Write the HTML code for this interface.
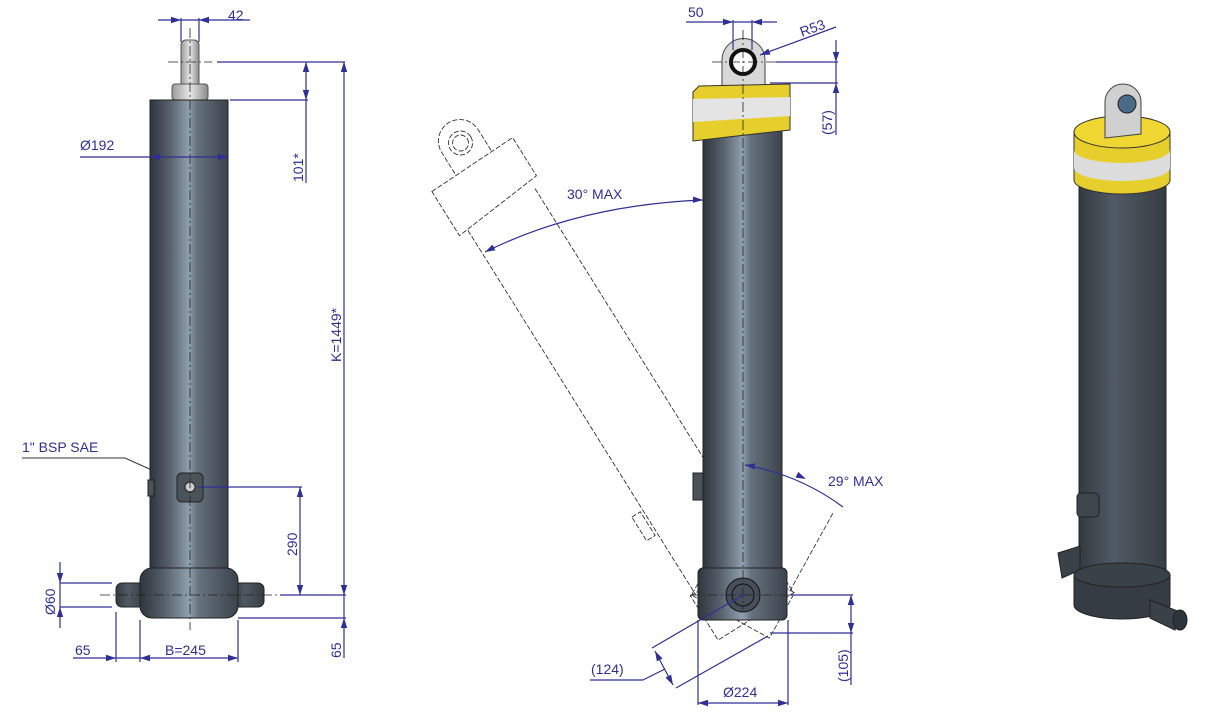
<!DOCTYPE html>
<html><head><meta charset="utf-8"><style>
html,body{margin:0;padding:0;background:#fff;}
svg{display:block;}
text{font-family:"Liberation Sans",sans-serif;fill:#2f2f96;font-size:14px;}
</style></head><body>
<svg width="1215" height="715" viewBox="0 0 1215 715" xmlns="http://www.w3.org/2000/svg" xmlns:xlink="http://www.w3.org/1999/xlink">
<defs>
<linearGradient id="body" x1="0" x2="1" y1="0" y2="0">
<stop offset="0" stop-color="#2e353d"/><stop offset="0.25" stop-color="#56606b"/><stop offset="0.5" stop-color="#8fa0ae"/><stop offset="0.6" stop-color="#66727e"/><stop offset="1" stop-color="#3b434c"/>
</linearGradient>
<linearGradient id="b3" x1="0" x2="1" y1="0" y2="0">
<stop offset="0" stop-color="#333a41"/><stop offset="0.4" stop-color="#505a64"/><stop offset="1" stop-color="#353c43"/>
</linearGradient>
<linearGradient id="rod" x1="0" x2="1"><stop offset="0" stop-color="#9a9a9a"/><stop offset="0.5" stop-color="#e8e8e8"/><stop offset="1" stop-color="#8a8a8a"/></linearGradient>
<path id="ar" d="M0,0 L-10,-3.2 L-10,3.2z" fill="#2f2f96"/>
</defs>
<!-- LEFT cylinder -->
<line x1="22" y1="458" x2="125" y2="458" stroke="#333" stroke-width="1"/>
<line x1="125" y1="458" x2="183" y2="484" stroke="#333" stroke-width="1"/>
<rect x="181" y="40" width="18" height="48" rx="5" fill="url(#rod)" stroke="#555"/>
<rect x="172" y="84" width="36" height="16" rx="3" fill="url(#rod)" stroke="#555"/>
<rect x="150" y="100" width="78" height="475" fill="url(#body)" stroke="#222"/>
<rect x="148" y="480" width="6" height="16" fill="#4a525a" stroke="#222"/>
<rect x="116" y="583" width="30" height="24" rx="6" fill="url(#b3)" stroke="#222"/>
<rect x="232" y="583" width="32" height="24" rx="6" fill="url(#b3)" stroke="#222"/>
<rect x="140" y="568" width="98" height="50" rx="12" fill="url(#body)" stroke="#222"/>
<rect x="177" y="473" width="26" height="29" rx="5" fill="#4a525a" stroke="#222"/>
<circle cx="190" cy="487" r="5" fill="#ccc" stroke="#222"/>
<g stroke="#222" stroke-width="0.8" stroke-dasharray="10,3,2,3" fill="none">
<line x1="190" y1="28" x2="190" y2="630"/><line x1="100" y1="595" x2="278" y2="595"/><line x1="168" y1="62" x2="212" y2="62"/>
</g>
<!-- MIDDLE ghost -->
<g transform="rotate(-32 743 595)" stroke="#333" stroke-width="0.9" stroke-dasharray="5,2" fill="none">
<line x1="703" y1="140" x2="703" y2="570"/><line x1="782" y1="140" x2="782" y2="570"/>
<path d="M722,85 L722,60 A21,21 0 0 1 765,60 L765,85"/><circle cx="743" cy="62" r="12"/><circle cx="743" cy="62" r="8"/>
<path d="M693,88 L790,85 L790,130 L693,140z"/><rect x="690" y="470" width="10" height="28"/>
<rect x="698" y="568" width="89" height="52"/>
</g>
<g transform="rotate(29 743 595)" stroke="#333" stroke-width="0.9" stroke-dasharray="5,2" fill="none">
<line x1="703" y1="480" x2="703" y2="570"/><line x1="782" y1="480" x2="782" y2="570"/>
<rect x="698" y="568" width="89" height="52"/>
</g>
<!-- MIDDLE cylinder -->
<path d="M722,88 L722,60 A21,21 0 0 1 765,60 L765,88z" fill="#d8d8d8" stroke="#444"/>
<circle cx="743" cy="62" r="12" fill="#fff" stroke="#111" stroke-width="4"/>
<rect x="703" y="130" width="79" height="445" fill="url(#body)" stroke="#222"/>
<path d="M693,92 L699,86 L790,84 L790,130 L693,141z" fill="#e6cf2c" stroke="#333"/>
<path d="M693,99 L790,97 L790,116 L693,122z" fill="#e4e4e4"/>
<rect x="693" y="473" width="10" height="27" fill="#4a525a" stroke="#222"/>
<rect x="698" y="568" width="89" height="52" rx="5" fill="url(#body)" stroke="#222"/>
<circle cx="743" cy="595" r="17" fill="#47505a" stroke="#111"/><circle cx="743" cy="595" r="11" fill="none" stroke="#111"/>
<g stroke="#222" stroke-width="0.8" stroke-dasharray="10,3,2,3" fill="none">
<line x1="743" y1="30" x2="743" y2="610"/><line x1="690" y1="595" x2="795" y2="595"/><line x1="712" y1="62" x2="776" y2="62"/>
</g>
<!-- RIGHT 3D -->
<rect x="1079" y="180" width="87" height="395" fill="url(#b3)" stroke="#222"/>
<path d="M1074,132 L1074,180 A48,14 0 0 0 1170,180 L1170,132z" fill="#e6cf2c" stroke="#333"/>
<path d="M1074,150 L1074,168 A48,13 0 0 0 1170,168 L1170,150 A48,13 0 0 1 1074,150z" fill="#dcdcdc"/>
<ellipse cx="1122" cy="132" rx="48" ry="16" fill="#f0d630" stroke="#333"/>
<path d="M1105,138 L1105,102 A18,18 0 0 1 1141,102 L1141,134z" fill="#d0d0d0" stroke="#444"/>
<circle cx="1127" cy="104" r="9" fill="#4a6a8a" stroke="#222"/>
<rect x="1077" y="493" width="22" height="24" rx="4" fill="#3e464e" stroke="#222"/>
<path d="M1058,553 L1080,546 L1080,570 L1062,578z" fill="#3a4249" stroke="#222"/>
<path d="M1074,575 L1074,605 A48,14 0 0 0 1170,605 L1170,575z" fill="#353c43" stroke="#222"/>
<ellipse cx="1122" cy="575" rx="48" ry="12" fill="#3a4249" stroke="#222"/>
<path d="M1150,600 L1180,612 L1175,630 L1150,618z" fill="#3a4249" stroke="#222"/>
<ellipse cx="1180" cy="620" rx="7" ry="10" fill="#2d343a" stroke="#222"/>
<!-- dims -->
<g stroke="#2f2f96" stroke-width="1.2" fill="none">
<line x1="158" y1="20" x2="250" y2="20"/>
<line x1="181" y1="18" x2="181" y2="42"/><line x1="199" y1="18" x2="199" y2="42"/>
<line x1="217" y1="62" x2="345" y2="62"/><line x1="230" y1="100" x2="308" y2="100"/>
<line x1="306" y1="62" x2="306" y2="183"/>
<line x1="344" y1="62" x2="344" y2="658"/>
<line x1="80" y1="157" x2="228" y2="157"/>
<line x1="198" y1="487" x2="302" y2="487"/>
<line x1="300" y1="487" x2="300" y2="595"/>
<line x1="280" y1="595" x2="346" y2="595"/><line x1="238" y1="618" x2="346" y2="618"/>
<line x1="60" y1="562" x2="60" y2="628"/>
<line x1="60" y1="583" x2="112" y2="583"/><line x1="60" y1="607" x2="112" y2="607"/>
<line x1="116" y1="612" x2="116" y2="662"/><line x1="140" y1="620" x2="140" y2="662"/><line x1="238" y1="620" x2="238" y2="662"/>
<line x1="73" y1="658" x2="238" y2="658"/>
<line x1="686" y1="22" x2="777" y2="22"/>
<line x1="733" y1="20" x2="733" y2="50"/><line x1="752" y1="20" x2="752" y2="50"/>
<line x1="836" y1="27" x2="760" y2="55"/>
<line x1="776" y1="62" x2="838" y2="62"/><line x1="770" y1="83" x2="838" y2="83"/>
<line x1="836" y1="40" x2="836" y2="135"/>
<path d="M485,252 Q580,205 703,200"/>
<path d="M745,465 Q800,475 843,507"/>
<line x1="790" y1="595" x2="853" y2="595"/><line x1="770" y1="633" x2="853" y2="633"/>
<line x1="851" y1="595" x2="851" y2="685"/>
<line x1="698" y1="620" x2="698" y2="705"/><line x1="788" y1="620" x2="788" y2="705"/>
<line x1="698" y1="703" x2="788" y2="703"/>
<line x1="743" y1="595" x2="652" y2="648"/><line x1="768" y1="636" x2="676" y2="688"/>
<line x1="655" y1="651" x2="673" y2="685"/>
<line x1="590" y1="680" x2="643" y2="680"/><line x1="643" y1="680" x2="665" y2="669"/>
</g>
<use xlink:href="#ar" transform="translate(181,20)"/>
<use xlink:href="#ar" transform="translate(199,20) rotate(180)"/>
<use xlink:href="#ar" transform="translate(306,62) rotate(-90)"/>
<use xlink:href="#ar" transform="translate(306,100) rotate(90)"/>
<use xlink:href="#ar" transform="translate(344,62) rotate(-90)"/>
<use xlink:href="#ar" transform="translate(344,595) rotate(90)"/>
<use xlink:href="#ar" transform="translate(344,618) rotate(-90)"/>
<use xlink:href="#ar" transform="translate(150,157) rotate(180)"/>
<use xlink:href="#ar" transform="translate(228,157)"/>
<use xlink:href="#ar" transform="translate(300,487) rotate(-90)"/>
<use xlink:href="#ar" transform="translate(300,595) rotate(90)"/>
<use xlink:href="#ar" transform="translate(60,583) rotate(90)"/>
<use xlink:href="#ar" transform="translate(60,607) rotate(-90)"/>
<use xlink:href="#ar" transform="translate(116,658)"/>
<use xlink:href="#ar" transform="translate(140,658) rotate(180)"/>
<use xlink:href="#ar" transform="translate(238,658)"/>
<use xlink:href="#ar" transform="translate(733,22)"/>
<use xlink:href="#ar" transform="translate(752,22) rotate(180)"/>
<use xlink:href="#ar" transform="translate(760,55) rotate(160)"/>
<use xlink:href="#ar" transform="translate(836,62) rotate(90)"/>
<use xlink:href="#ar" transform="translate(836,83) rotate(-90)"/>
<use xlink:href="#ar" transform="translate(703,200) rotate(2)"/>
<use xlink:href="#ar" transform="translate(485,252) rotate(153)"/>
<use xlink:href="#ar" transform="translate(745,465) rotate(188)"/>
<use xlink:href="#ar" transform="translate(806,479) rotate(25)"/>
<use xlink:href="#ar" transform="translate(851,595) rotate(-90)"/>
<use xlink:href="#ar" transform="translate(851,633) rotate(90)"/>
<use xlink:href="#ar" transform="translate(698,703) rotate(180)"/>
<use xlink:href="#ar" transform="translate(788,703)"/>
<use xlink:href="#ar" transform="translate(655,651) rotate(-118)"/>
<use xlink:href="#ar" transform="translate(673,685) rotate(62)"/>
<!-- text -->
<text x="228" y="20">42</text>
<text x="80" y="150">Ø192</text>
<text transform="translate(303,182) rotate(-90)">101*</text>
<text transform="translate(341,362) rotate(-90)">K=1449*</text>
<text x="22" y="452">1" BSP SAE</text>
<text transform="translate(297,556) rotate(-90)">290</text>
<text transform="translate(55,615) rotate(-90)">Ø60</text>
<text x="75" y="655">65</text>
<text x="165" y="655">B=245</text>
<text transform="translate(341,658) rotate(-90)">65</text>
<text x="688" y="17">50</text>
<text transform="translate(802,37) rotate(-20)">R53</text>
<text transform="translate(832,135) rotate(-90)">(57)</text>
<text x="567" y="199">30° MAX</text>
<text x="828" y="486">29° MAX</text>
<text transform="translate(848,682) rotate(-90)">(105)</text>
<text x="723" y="697">Ø224</text>
<text x="591" y="674">(124)</text>
</svg>
</body></html>
